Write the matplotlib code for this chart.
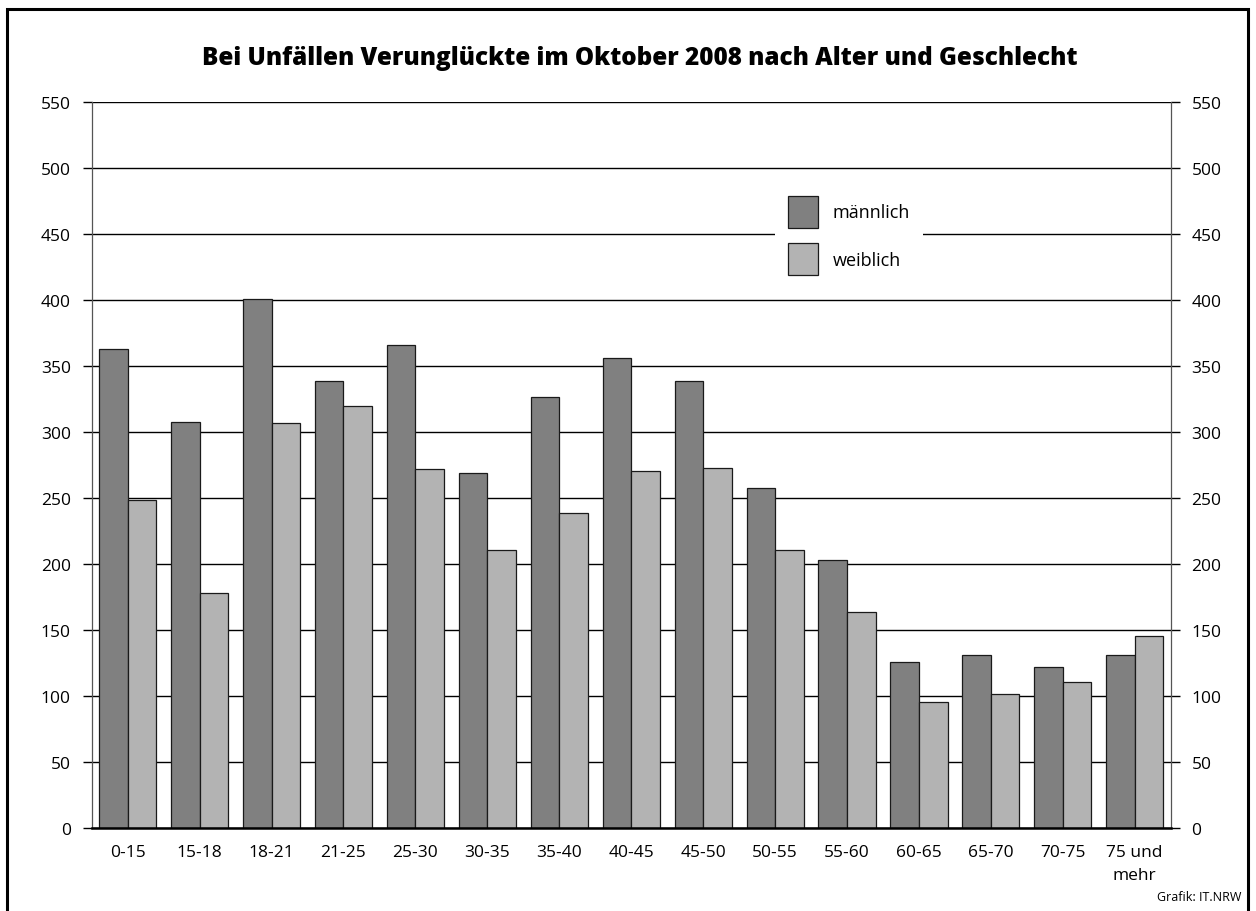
import numpy as np
import matplotlib
matplotlib.use("Agg")
import matplotlib.pyplot as plt
from matplotlib.patches import Patch, Rectangle

plt.rcParams['font.family'] = ['Open Sans', 'DejaVu Sans']

# Verunglückte im Oktober 2008 nach Altersgruppen
gruppen = ["0-15", "15-18", "18-21", "21-25", "25-30", "30-35", "35-40", "40-45",
           "45-50", "50-55", "55-60", "60-65", "65-70", "70-75", "75 und\nmehr"]
maennlich = [363, 308, 401, 339, 366, 269, 327, 356, 339, 258, 203, 126, 131, 122, 131]
weiblich = [249, 178, 307, 320, 272, 211, 239, 271, 273, 211, 164, 96, 102, 111, 146]
y_ticks = list(range(0, 551, 50))

col_m = "#808080"
col_w = "#b3b3b3"

fig = plt.figure(figsize=(12.56, 9.12), dpi=100)
ax = fig.add_axes([0.0730, 0.0907, 0.8591, 0.7961])

x = np.arange(len(gruppen))
w = 0.397
ax.bar(x - w/2, maennlich, width=w, color=col_m, edgecolor="#1a1a1a", linewidth=0.9, zorder=3)
ax.bar(x + w/2, weiblich, width=w, color=col_w, edgecolor="#1a1a1a", linewidth=0.9, zorder=3)

ax.set_xlim(-0.5, len(gruppen) - 0.5)
ax.set_ylim(0, 550)
ax.set_yticks(y_ticks)
ax.set_xticks(x)
ax.set_xticklabels(gruppen, fontsize=12.5, linespacing=1.6, va="top")
ax.tick_params(axis="x", length=0, pad=11)
ax.tick_params(axis="y", direction="out", length=6.5, width=1.0, color="black",
               labelsize=12.5, pad=8.5, left=True, right=True, labelleft=True, labelright=True)

ax.grid(axis="y", color="black", linewidth=1.0, zorder=1)
ax.set_axisbelow(True)
for s in ["left", "right"]:
    ax.spines[s].set_color("#555555")
    ax.spines[s].set_linewidth(0.9)
ax.spines["top"].set_visible(False)
ax.spines["bottom"].set_color("black")
ax.spines["bottom"].set_linewidth(1.8)
ax.spines["bottom"].set_zorder(4)

fig.text(0.5095, 0.936, "Bei Unfällen Verunglückte im Oktober 2008 nach Alter und Geschlecht",
         ha="center", va="center", fontsize=17.5, fontweight="heavy")

handles = [Patch(facecolor=col_m, edgecolor="#1a1a1a", linewidth=0.9, label="männlich"),
           Patch(facecolor=col_w, edgecolor="#1a1a1a", linewidth=0.9, label="weiblich")]
leg = ax.legend(handles=handles, loc="upper left", bbox_to_anchor=(775/1256, 1 - 184/912),
                bbox_transform=fig.transFigure, fontsize=13, frameon=True, fancybox=False,
                framealpha=1, facecolor="white", edgecolor="none", borderaxespad=0,
                borderpad=0.7, handlelength=1.7, handleheight=2.35, handletextpad=0.8,
                labelspacing=0.85)
leg.set_zorder(5)

fig.text(0.988, 0.016, "Grafik: IT.NRW", ha="right", va="center", fontsize=9)

# Rahmen um die Grafik
fig.patches.append(Rectangle((7/1256, -0.05), 1241/1256, 1 - 10/912 + 0.05,
                             transform=fig.transFigure, fill=False, edgecolor="black",
                             linewidth=2.2))

fig.savefig("out.png", dpi=100, facecolor="white")
